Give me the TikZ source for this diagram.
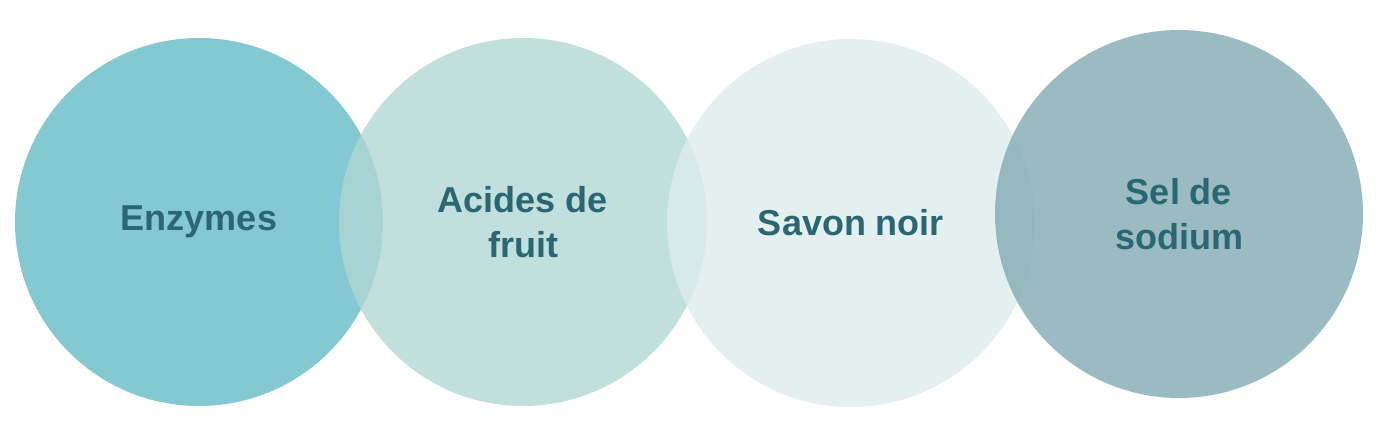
\documentclass[tikz,border=0pt]{standalone}
\usepackage{fontspec}
\setmainfont{Liberation Sans}
\definecolor{enzymeBlue}{RGB}{101,186,198}
\definecolor{fruitGreen}{RGB}{176,215,212}
\definecolor{soapPale}{RGB}{221,236,236}
\definecolor{saltGrey}{RGB}{130,170,179}
\definecolor{labelTeal}{RGB}{43,102,115}
\begin{document}
\begin{tikzpicture}[x=0.75pt, y=-0.75pt]
  \tikzset{bubble/.style={circle, minimum size=276pt, inner sep=0pt,
      fill opacity=0.8, text opacity=1, align=center, text=labelTeal,
      font=\fontsize{27}{34}\selectfont\bfseries}}
  \useasboundingbox (0,0) rectangle (1390,425);
  \node[bubble, fill=enzymeBlue] (enzymes) at (199,222) {Enzymes};
  \node[bubble, fill=fruitGreen] (acides) at (523,222) {Acides de\\fruit};
  \node[bubble, fill=soapPale] (savon) at (851,223) {Savon noir};
  \node[bubble, fill=saltGrey] (sel) at (1179,214) {Sel de\\sodium};
\end{tikzpicture}
\end{document}
